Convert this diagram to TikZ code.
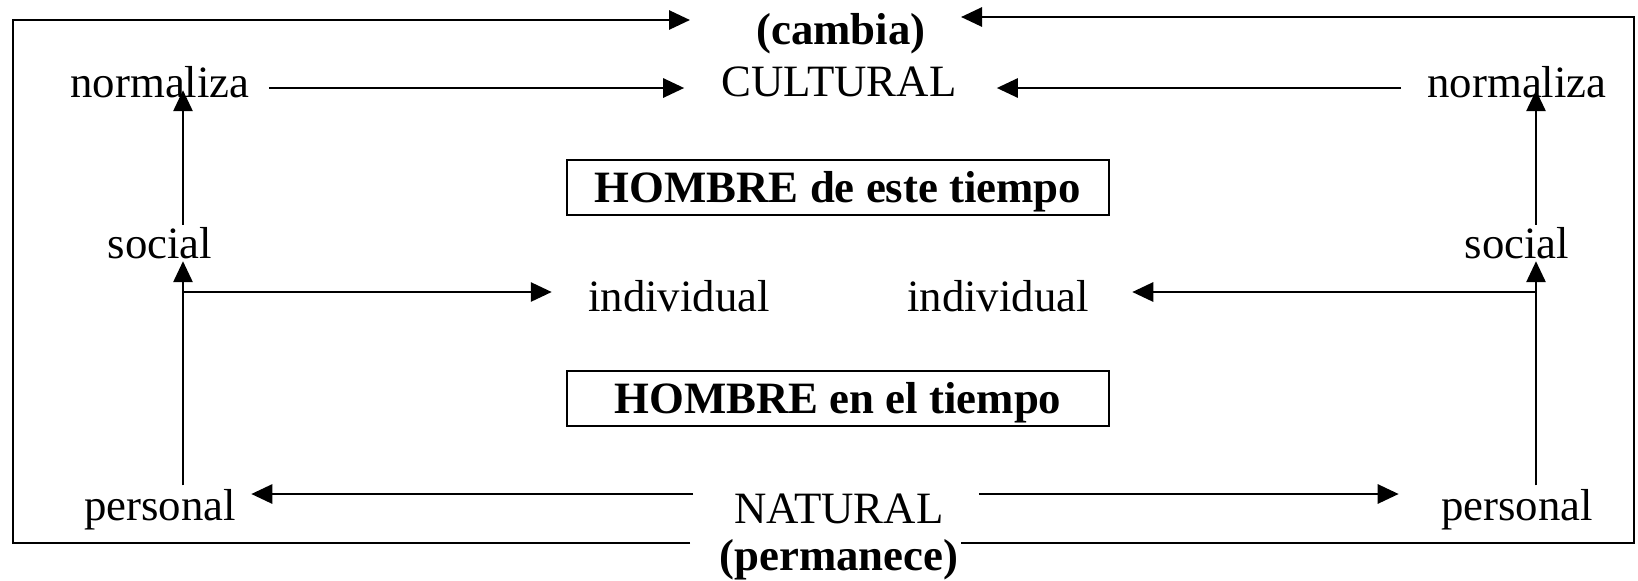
\documentclass[tikz,border=0pt]{standalone}
\usepackage{fontspec}
\setmainfont{Liberation Serif}
\usetikzlibrary{arrows.meta,calc}
\begin{document}
\begin{tikzpicture}[x=0.5pt,y=-0.5pt,
  lbl/.style={inner sep=0pt,font=\fontsize{22.4}{26}\selectfont},
  blbl/.style={inner sep=0pt,font=\fontsize{22.4}{26}\selectfont\bfseries},
  ln/.style={line width=1.4pt,line join=miter},
  arr/.style={ln,-{Triangle[length=10.5pt,width=9.5pt]}},
  hbox/.style={draw,line width=1pt,minimum width=271pt,minimum height=27.5pt,inner sep=0pt,text depth=0pt,font=\fontsize{22.4}{26}\selectfont\bfseries}]
\useasboundingbox (0,0) rectangle (1638,580);
% nodes
\node[blbl] (cambia) at (841,34) {(cambia)};
\node[lbl] (cult) at (839,82) {CULTURAL};
\node[lbl] (nl) at (160,82) {normaliza};
\node[lbl] (nr) at (1517,82) {normaliza};
\node[hbox] (h1) at (838,187) {HOMBRE de este tiempo};
\node[lbl] (sl) at (160,243) {social};
\node[lbl] (sr) at (1517,243) {social};
\node[lbl] (il) at (679,296) {individual};
\node[lbl] (ir) at (998,296) {individual};
\node[hbox] (h2) at (838,398) {HOMBRE en el tiempo};
\node[lbl] (pl) at (160,510) {personal};
\node[lbl] (pr) at (1517,510) {personal};
\node[lbl] (nat) at (839,509) {NATURAL};
\node[blbl] (perm) at (839,560) {(permanece)};
% frame coordinates
\coordinate (tl) at (13,20);
\coordinate (bl) at (13,543);
\coordinate (tr) at (1634,17);
\coordinate (br) at (1634,543);
\coordinate (tipL) at (690,20);
\coordinate (tipR) at (961,17);
\coordinate (botL) at (690,543);
\coordinate (botR) at (961,543);
\coordinate (vL) at (183,0);
\coordinate (vR) at (1536,0);
\coordinate (jL) at (183,292);
\coordinate (jR) at (1536,292);
% outer frame arrows
\draw[arr] (botL) -- (bl) -- (tl) -- (tipL);
\draw[arr] (botR) -- (br) -- (tr) -- (tipR);
% normaliza -> CULTURAL
\draw[arr] ($(nl.east)+(19,6)$) -- ($(cult.west)+(-37,6)$);
\draw[arr] ($(nr.west)+(-26,6)$) -- ($(cult.east)+(40,6)$);
% verticals
\draw[arr] ($(pl.north -| vL)+(0,-4)$) -- ($(sl.south -| vL)+(0,2)$);
\draw[arr] ($(sl.north -| vL)+(0,-2)$) -- ($(nl.south -| vL)+(0,-8)$);
\draw[arr] ($(pr.north -| vR)+(0,-4)$) -- ($(sr.south -| vR)+(0,2)$);
\draw[arr] ($(sr.north -| vR)+(0,-2)$) -- ($(nr.south -| vR)+(0,-8)$);
% to individual
\draw[arr] (jL) -- ($(il.west |- jL)+(-36,0)$);
\draw[arr] (jR) -- ($(ir.east |- jR)+(43,0)$);
% NATURAL -> personal
\draw[arr] ($(nat.west)+(-41,-15)$) -- ($(pl.east)+(15,-16)$);
\draw[arr] ($(nat.east)+(35,-15)$) -- ($(pr.west)+(-42,-16)$);
\end{tikzpicture}
\end{document}
